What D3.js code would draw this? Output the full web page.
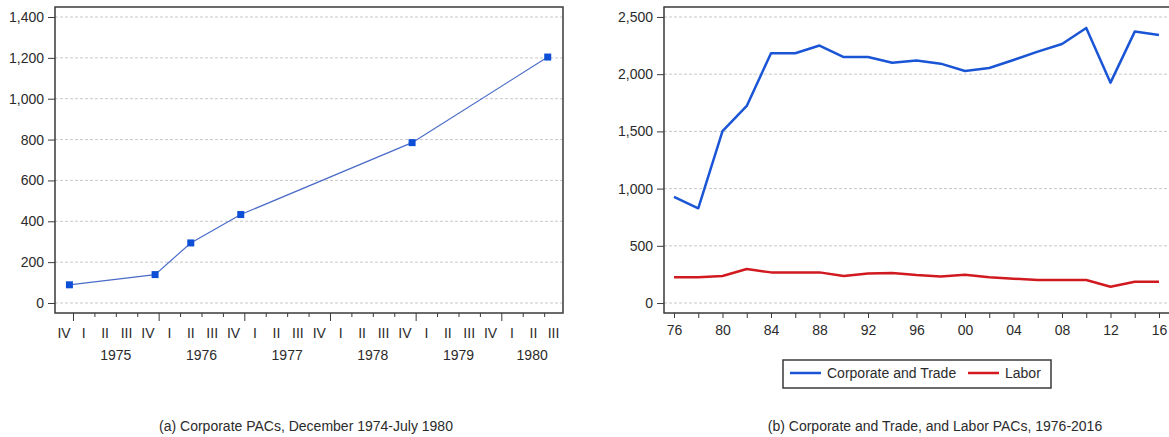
<!DOCTYPE html>
<html>
<head>
<meta charset="utf-8">
<script src="https://cdn.jsdelivr.net/npm/d3@7"></script>
<style>
  html, body { margin: 0; padding: 0; background: #fff; }
  svg text { font-family: "Liberation Sans", Arial, sans-serif; fill: #2b2b2b; }
</style>
</head>
<body>
<svg id="chart" width="1169" height="437"></svg>
<script>
// ---------- DATA ----------
// Panel (a): Corporate PACs (observation dates as year, month)
const corpDates = [[1974, 12], [1975, 12], [1976, 5], [1976, 12], [1978, 12], [1980, 7]];
const corpPACs = [89, 139, 294, 433, 785, 1204];
const quarterLabels = ["I", "II", "III", "IV"];
const yTicksA = [0, 200, 400, 600, 800, 1000, 1200, 1400];

// Panel (b): Corporate and Trade vs Labor PACs, biennial 1976-2016
const yearsB = [1976, 1978, 1980, 1982, 1984, 1986, 1988, 1990, 1992, 1994, 1996,
                1998, 2000, 2002, 2004, 2006, 2008, 2010, 2012, 2014, 2016];
const corpTrade = [928, 828, 1503, 1722, 2183, 2183, 2250, 2150, 2150, 2100, 2120,
                   2092, 2028, 2054, 2124, 2197, 2264, 2404, 1926, 2372, 2343];
const labor = [225, 225, 236, 297, 268, 268, 268, 236, 259, 262, 245,
               233, 247, 225, 213, 201, 201, 201, 143, 186, 186];
const yTicksB = [0, 500, 1000, 1500, 2000, 2500];
const xLabelYearsB = [1976, 1980, 1984, 1988, 1992, 1996, 2000, 2004, 2008, 2012, 2016];
const seriesNamesB = ["Corporate and Trade", "Labor"];
const captionA = "(a) Corporate PACs, December 1974-July 1980";
const captionB = "(b) Corporate and Trade, and Labor PACs, 1976-2016";

// ---------- LAYOUT ----------
const svg = d3.select("#chart");
const plotTop = 7, plotBottom = 313;
const fmt = d3.format(",");
const gridColor = "#c8c8c8";
const frameColor = "#3a3a3a";
const blue = "#1a55d6", red = "#d01a1f";

// ================= PANEL A =================
const aL = 55, aR = 563;
const xA = d3.scaleLinear().domain([1974.79, 1980.72]).range([aL, aR]);
const yA = d3.scaleLinear().domain([-49, 1449]).range([plotBottom, plotTop]);
const gA = svg.append("g");

gA.selectAll("line.grid").data(yTicksA).join("line")
  .attr("x1", aL).attr("x2", aR)
  .attr("y1", d => yA(d)).attr("y2", d => yA(d))
  .attr("stroke", gridColor).attr("stroke-width", 1).attr("stroke-dasharray", "3,2");

const yAxisA = d3.axisLeft(yA).tickValues(yTicksA).tickFormat(fmt).tickSizeOuter(0).tickSize(7).tickPadding(4);
gA.append("g").attr("transform", `translate(${aL},0)`).call(yAxisA)
  .call(g => g.select(".domain").remove())
  .call(g => g.selectAll(".tick line").attr("stroke", frameColor))
  .call(g => g.selectAll(".tick text").attr("font-size", 14).attr("fill", "#2b2b2b"));

const [dA0, dA1] = xA.domain();
const quarterStarts = [];
for (let t = Math.ceil(dA0 * 4) / 4; t <= dA1 + 1e-9; t += 0.25) quarterStarts.push(+t.toFixed(2));
const xAxisA = d3.axisBottom(xA).tickValues(quarterStarts).tickFormat("").tickSizeOuter(0).tickSize(4);
gA.append("g").attr("transform", `translate(0,${plotBottom})`).call(xAxisA)
  .call(g => g.select(".domain").remove())
  .call(g => g.selectAll(".tick line").attr("stroke", frameColor)
    .attr("y2", d => Math.abs(d - Math.round(d)) < 1e-6 ? 8 : 4));

const quarters = [];
for (let t = Math.floor(dA0 * 4) / 4; t < dA1; t += 0.25) {
  const s = Math.max(t, dA0), e = Math.min(t + 0.25, dA1);
  const q = Math.round((t - Math.floor(t + 1e-9)) * 4);
  quarters.push({ mid: (s + e) / 2, label: quarterLabels[q] });
}
gA.selectAll("text.q").data(quarters).join("text")
  .attr("x", d => xA(d.mid)).attr("y", 338)
  .attr("text-anchor", "middle").attr("font-size", 14).attr("fill", "#444")
  .text(d => d.label);

const yearsA = [];
for (let y = Math.floor(dA0); y < dA1; y++) {
  const s = Math.max(y, dA0), e = Math.min(y + 1, dA1);
  if (e - s > 0.5) yearsA.push({ mid: (s + e) / 2, label: String(y) });
}
gA.selectAll("text.yr").data(yearsA).join("text")
  .attr("x", d => xA(d.mid)).attr("y", 360)
  .attr("text-anchor", "middle").attr("font-size", 14)
  .text(d => d.label);

const ptsA = corpDates.map((d, i) => ({ t: d[0] + (d[1] - 0.5) / 12, v: corpPACs[i] }));
gA.append("path").datum(ptsA)
  .attr("fill", "none").attr("stroke", "#4a6cc8").attr("stroke-width", 1.2)
  .attr("d", d3.line().x(d => xA(d.t)).y(d => yA(d.v)));
gA.selectAll("rect.m").data(ptsA).join("rect")
  .attr("x", d => xA(d.t) - 3.5).attr("y", d => yA(d.v) - 3.5)
  .attr("width", 7).attr("height", 7).attr("fill", "#0c4fd6");

gA.append("rect").attr("x", aL).attr("y", plotTop).attr("width", aR - aL).attr("height", plotBottom - plotTop)
  .attr("fill", "none").attr("stroke", frameColor).attr("stroke-width", 1.5);

svg.append("text").attr("x", 306).attr("y", 431).attr("text-anchor", "middle")
  .attr("font-size", 14).text(captionA);

// ================= PANEL B =================
const bL = 664, bR = 1171;
const xB = d3.scaleLinear().domain([1975.175, 2016.99]).range([bL, bR]);
const yB = d3.scaleLinear().domain([-87, 2587]).range([plotBottom, plotTop]);
const gB = svg.append("g");

gB.selectAll("line.grid").data(yTicksB).join("line")
  .attr("x1", bL).attr("x2", bR)
  .attr("y1", d => yB(d)).attr("y2", d => yB(d))
  .attr("stroke", gridColor).attr("stroke-width", 1).attr("stroke-dasharray", "3,2");

const yAxisB = d3.axisLeft(yB).tickValues(yTicksB).tickFormat(fmt).tickSizeOuter(0).tickSize(7).tickPadding(4);
gB.append("g").attr("transform", `translate(${bL},0)`).call(yAxisB)
  .call(g => g.select(".domain").remove())
  .call(g => g.selectAll(".tick line").attr("stroke", frameColor))
  .call(g => g.selectAll(".tick text").attr("font-size", 14).attr("fill", "#2b2b2b"));

const xAxisB = d3.axisBottom(xB).tickValues(yearsB).tickSizeOuter(0).tickSize(5).tickPadding(7)
  .tickFormat(d => xLabelYearsB.includes(d) ? String(d % 100).padStart(2, "0") : "");
gB.append("g").attr("transform", `translate(0,${plotBottom})`).call(xAxisB)
  .call(g => g.select(".domain").remove())
  .call(g => g.selectAll(".tick line").attr("stroke", frameColor))
  .call(g => g.selectAll(".tick text").attr("font-size", 14).attr("fill", "#2b2b2b"));

const lineB = d3.line().x(d => xB(d[0])).y(d => yB(d[1]));
gB.append("path").datum(yearsB.map((y, i) => [y, corpTrade[i]]))
  .attr("fill", "none").attr("stroke", blue).attr("stroke-width", 2.5).attr("stroke-linejoin", "round")
  .attr("d", lineB);
gB.append("path").datum(yearsB.map((y, i) => [y, labor[i]]))
  .attr("fill", "none").attr("stroke", red).attr("stroke-width", 2.5).attr("stroke-linejoin", "round")
  .attr("d", lineB);

gB.append("rect").attr("x", bL).attr("y", plotTop).attr("width", bR - bL).attr("height", plotBottom - plotTop)
  .attr("fill", "none").attr("stroke", frameColor).attr("stroke-width", 1.5);

const lg = svg.append("g");
lg.append("rect").attr("x", 783).attr("y", 360).attr("width", 268).attr("height", 28)
  .attr("fill", "#fff").attr("stroke", frameColor).attr("stroke-width", 1.5);
const legendItems = [
  { name: seriesNamesB[0], color: blue, x: 790 },
  { name: seriesNamesB[1], color: red, x: 968 }
];
legendItems.forEach(it => {
  lg.append("line").attr("x1", it.x).attr("x2", it.x + 31).attr("y1", 373).attr("y2", 373)
    .attr("stroke", it.color).attr("stroke-width", 2.5);
  lg.append("text").attr("x", it.x + 37).attr("y", 378).attr("font-size", 14).text(it.name);
});

svg.append("text").attr("x", 935).attr("y", 431).attr("text-anchor", "middle")
  .attr("font-size", 14).text(captionB);
</script>
</body>
</html>
